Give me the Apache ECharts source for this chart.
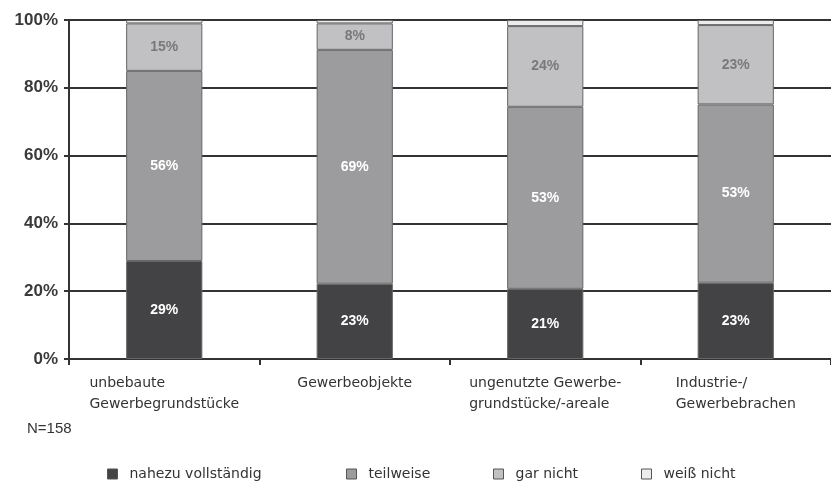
<!DOCTYPE html>
<html>
<head>
<meta charset="utf-8">
<script src="https://cdn.jsdelivr.net/npm/echarts@6/dist/echarts.min.js"></script>
<style>
html,body{margin:0;padding:0;background:#fff;}
#c{width:831px;height:482px;}
</style>
</head>
<body>
<div id="c"></div>
<script>
const categories = [
  ['unbebaute', 'Gewerbegrundstücke'],
  ['Gewerbeobjekte'],
  ['ungenutzte Gewerbe-', 'grundstücke/-areale'],
  ['Industrie-/', 'Gewerbebrachen']
];
const seriesNames = ['nahezu vollständig', 'teilweise', 'gar nicht', 'weiß nicht'];
const nahezu = [28.9, 22.2, 20.7, 22.5];
const teilweise = [56.1, 69.0, 53.7, 52.6];
const garNicht = [14.0, 7.8, 23.8, 23.4];
const weissNicht = [1.0, 1.0, 1.8, 1.5];
const labNahezu = ['29%', '23%', '21%', '23%'];
const labTeilweise = ['56%', '69%', '53%', '53%'];
const labGarNicht = ['15%', '8%', '24%', '23%'];
const yTicks = [0, 20, 40, 60, 80, 100];
const note = 'N=158';

const colors = ['#434345', '#9c9c9f', '#c1c1c4', '#ececec'];
const labelColors = ['#ffffff', '#ffffff', '#79797b', '#79797b'];
const allValues = [nahezu, teilweise, garNicht, weissNicht];
const allLabels = [labNahezu, labTeilweise, labGarNicht, null];
const catFont = 'DejaVu Sans';

const chart = echarts.init(document.getElementById('c'), null, {renderer: 'canvas'});

const series = seriesNames.map((name, si) => ({
  name: name,
  type: 'bar',
  stack: 'total',
  barWidth: '40%',
  data: allValues[si].map((v, i) => ({value: v})),
  itemStyle: {color: colors[si], borderColor: '#666668', borderWidth: 1},
  label: {
    show: !!allLabels[si],
    position: 'inside',
    color: labelColors[si],
    fontFamily: 'Liberation Sans',
    fontWeight: 'bold',
    fontSize: 14,
    formatter: p => allLabels[si] ? allLabels[si][p.dataIndex] : ''
  },
  emphasis: {disabled: true},
  animation: false
}));

const legendLefts = [107, 346, 493, 641];
const legends = seriesNames.map((name, i) => ({
  data: [name],
  left: legendLefts[i],
  top: 467,
  padding: 0,
  icon: 'rect',
  itemWidth: 10,
  itemHeight: 10,
  itemGap: 14,
  itemStyle: {borderColor: '#555', borderWidth: 1},
  textStyle: {fontFamily: catFont, fontSize: 14, color: '#333', padding: [0, 0, 0, 7]},
  selectedMode: false
}));

chart.setOption({
  animation: false,
  backgroundColor: '#fff',
  grid: {left: 69, right: -4, top: 20, bottom: 123, containLabel: false},
  legend: legends,
  graphic: [{
    type: 'text', left: 27, top: 421,
    style: {text: note, fontFamily: 'Liberation Sans', fontSize: 15, fill: '#333'}
  }],
  xAxis: {
    type: 'category',
    data: categories.map(c => c.join('\n')),
    axisLine: {lineStyle: {color: '#333', width: 2}},
    axisTick: {show: true, length: 6, lineStyle: {color: '#333', width: 2}},
    axisLabel: {
      margin: 14,
      interval: 0,
      color: '#333',
      fontFamily: catFont,
      fontSize: 14,
      lineHeight: 21,
      formatter: (v) => v.split('\n').map(s => '{l|' + s + '}').join('\n'),
      rich: {l: {align: 'left', fontFamily: catFont, fontSize: 14, color: '#333', lineHeight: 21}}
    }
  },
  yAxis: {
    type: 'value',
    min: yTicks[0],
    max: yTicks[yTicks.length - 1],
    interval: 20,
    axisLine: {show: true, lineStyle: {color: '#333', width: 2}},
    axisTick: {show: true, length: 5, lineStyle: {color: '#333', width: 2}},
    splitLine: {show: true, lineStyle: {color: '#333', width: 2}},
    axisLabel: {
      formatter: '{value}%',
      margin: 11,
      color: '#3a3a3a',
      fontFamily: 'Liberation Sans',
      fontWeight: 'bold',
      fontSize: 17
    }
  },
  series: series
});
</script>
</body>
</html>
